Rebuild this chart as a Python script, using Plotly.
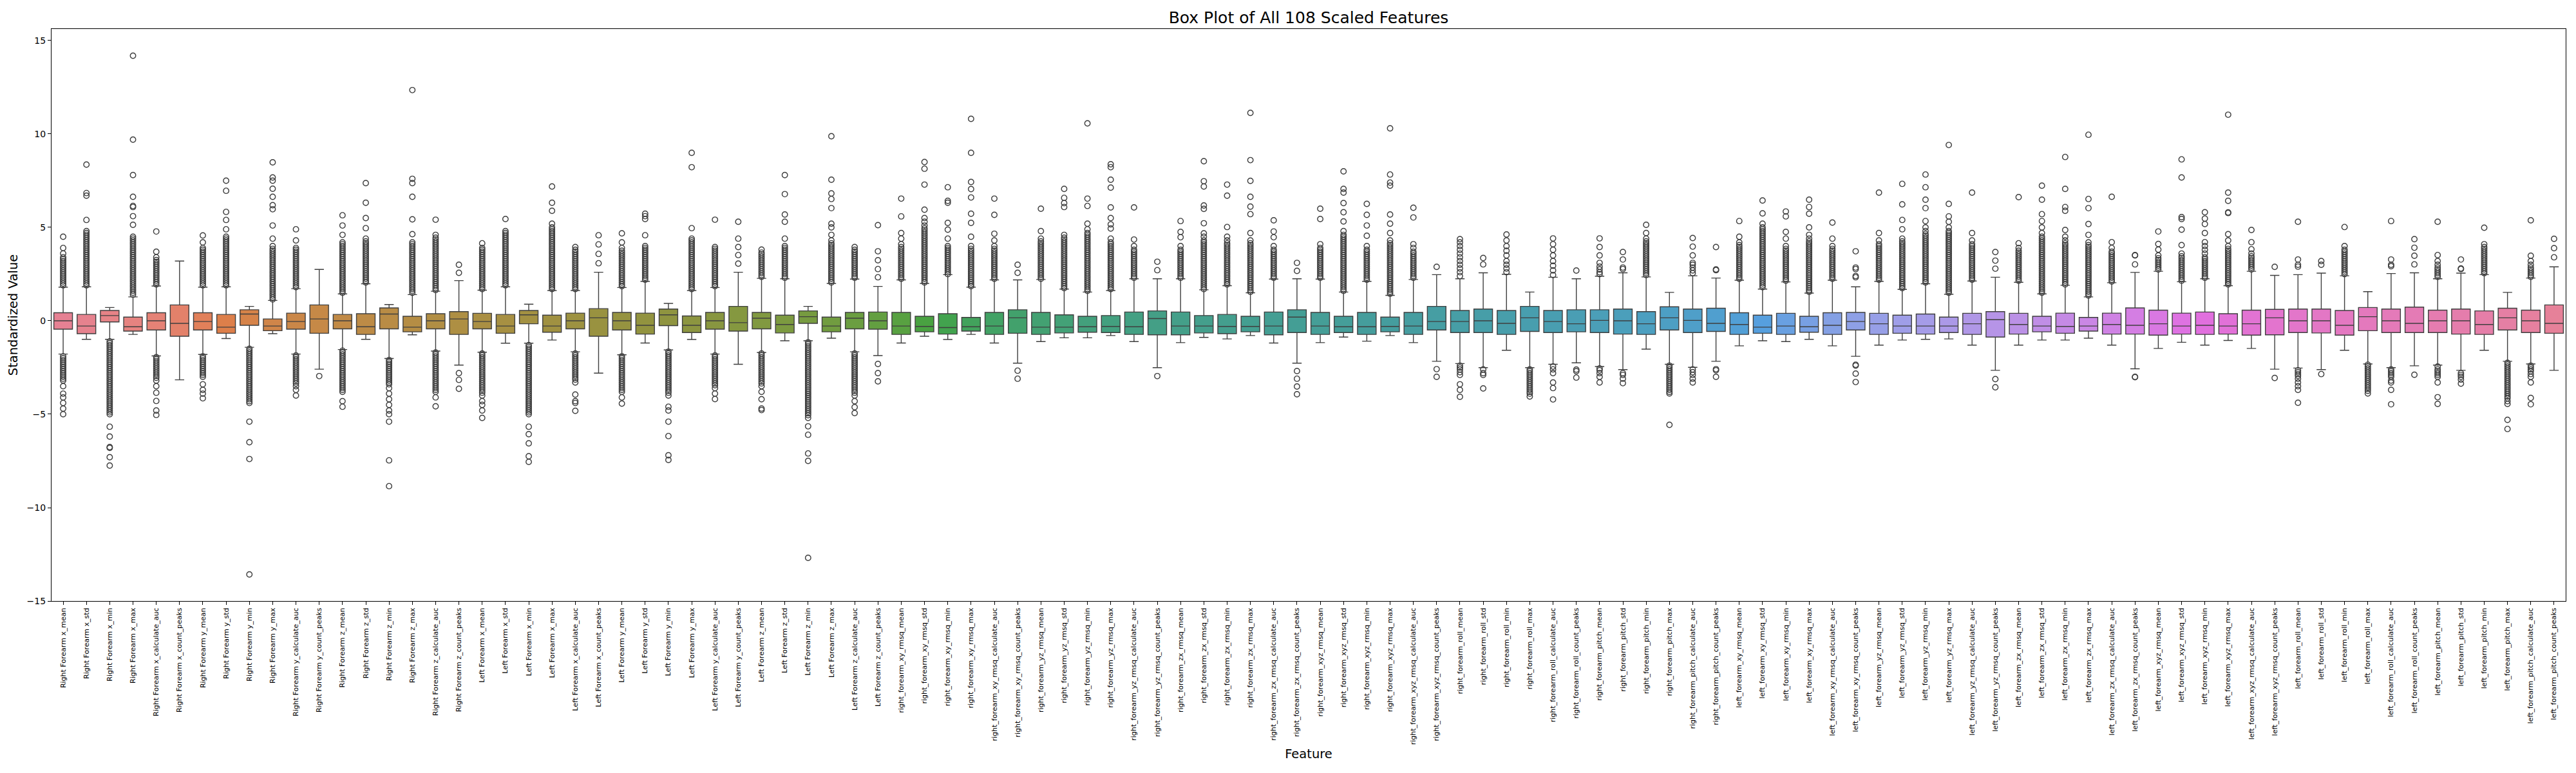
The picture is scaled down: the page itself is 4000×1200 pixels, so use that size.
import colorsys
import math
import plotly.graph_objects as go

# ---- feature names ----
stats = ["mean", "std", "min", "max", "calculate_auc", "count_peaks"]
axes_raw = ["x", "y", "z"]
axes_rmsq = ["xy", "yz", "zx", "xyz"]
angles = ["roll", "pitch"]

labels = ([f"Right Forearm {a}_{s}" for a in axes_raw for s in stats]
          + [f"Left Forearm {a}_{s}" for a in axes_raw for s in stats]
          + [f"right_forearm_{a}_rmsq_{s}" for a in axes_rmsq for s in stats]
          + [f"right_forearm_{a}_{s}" for a in angles for s in stats]
          + [f"left_forearm_{a}_rmsq_{s}" for a in axes_rmsq for s in stats]
          + [f"left_forearm_{a}_{s}" for a in angles for s in stats])

# ---- box statistics ----
q1 = [-0.45, -0.69, -0.06, -0.55, -0.49, -0.83, -0.49, -0.67, -0.24, -0.53, -0.45, -0.67,
      -0.43, -0.73, -0.43, -0.59, -0.43, -0.73, -0.43, -0.67, -0.16, -0.61, -0.43, -0.83,
      -0.49, -0.71, -0.26, -0.63, -0.45, -0.55, -0.43, -0.65, -0.14, -0.59, -0.43, -0.45,
      -0.73, -0.59, -0.71, -0.55, -0.73, -0.67, -0.73, -0.65, -0.61, -0.63, -0.73, -0.75,
      -0.75, -0.65, -0.69, -0.59, -0.75, -0.63, -0.73, -0.63, -0.73, -0.59, -0.73, -0.49,
      -0.63, -0.63, -0.73, -0.57, -0.63, -0.59, -0.63, -0.71, -0.73, -0.49, -0.63, -0.57,
      -0.73, -0.67, -0.73, -0.61, -0.73, -0.49, -0.73, -0.67, -0.71, -0.63, -0.73, -0.87,
      -0.71, -0.59, -0.67, -0.55, -0.71, -0.71, -0.77, -0.71, -0.73, -0.71, -0.77, -0.75,
      -0.63, -0.65, -0.77, -0.53, -0.63, -0.63, -0.63, -0.71, -0.73, -0.49, -0.63, -0.67]
med = [0.0, -0.28, 0.28, -0.32, 0.0, -0.14, -0.04, -0.34, 0.36, -0.28, -0.04, 0.10,
       0.0, -0.32, 0.36, -0.34, 0.0, 0.10, -0.04, -0.28, 0.32, -0.28, 0.0, 0.16,
       0.0, -0.24, 0.32, -0.24, 0.0, -0.10, 0.14, -0.20, 0.22, -0.28, 0.14, 0.0,
       -0.28, -0.30, -0.36, -0.32, -0.28, 0.16, -0.34, -0.34, -0.32, -0.30, -0.32, 0.12,
       -0.28, -0.28, -0.30, -0.30, -0.28, 0.20, -0.28, -0.32, -0.32, -0.30, -0.28, -0.04,
       -0.04, 0.0, -0.14, 0.16, -0.04, -0.16, 0.02, 0.0, -0.16, 0.16, 0.02, -0.14,
       -0.20, -0.34, -0.28, -0.32, -0.24, -0.04, -0.16, -0.28, -0.28, -0.28, -0.16, 0.06,
       -0.20, -0.28, -0.30, -0.28, -0.20, -0.24, -0.16, -0.28, -0.24, -0.28, -0.16, 0.16,
       0.0, 0.0, -0.24, 0.22, 0.0, -0.14, 0.0, 0.0, -0.20, 0.16, 0.0, -0.14]
q3 = [0.43, 0.34, 0.55, 0.20, 0.43, 0.85, 0.43, 0.34, 0.59, 0.10, 0.41, 0.85,
      0.34, 0.38, 0.69, 0.24, 0.38, 0.49, 0.40, 0.34, 0.55, 0.30, 0.41, 0.65,
      0.45, 0.41, 0.63, 0.26, 0.45, 0.77, 0.45, 0.30, 0.53, 0.20, 0.45, 0.47,
      0.45, 0.24, 0.38, 0.18, 0.45, 0.59, 0.45, 0.32, 0.24, 0.28, 0.47, 0.53,
      0.47, 0.28, 0.34, 0.24, 0.47, 0.59, 0.45, 0.24, 0.45, 0.20, 0.45, 0.77,
      0.55, 0.63, 0.55, 0.77, 0.55, 0.59, 0.59, 0.63, 0.49, 0.75, 0.63, 0.67,
      0.43, 0.30, 0.40, 0.24, 0.43, 0.45, 0.40, 0.30, 0.36, 0.20, 0.40, 0.49,
      0.40, 0.24, 0.41, 0.18, 0.41, 0.69, 0.57, 0.41, 0.47, 0.38, 0.57, 0.61,
      0.63, 0.63, 0.55, 0.71, 0.63, 0.73, 0.57, 0.63, 0.53, 0.67, 0.57, 0.85]
whisk_lo = [-1.78, -0.99, -0.99, -0.73, -1.88, -3.16, -1.80, -0.95, -1.42, -0.69, -1.78, -2.59,
            -1.54, -0.99, -2.02, -0.75, -1.62, -2.37, -1.68, -1.20, -1.20, -1.03, -1.66, -2.80,
            -1.82, -1.19, -1.56, -1.00, -1.78, -2.33, -1.70, -1.07, -1.07, -0.93, -1.66, -1.86,
            -1.19, -0.83, -1.00, -0.73, -1.19, -2.27, -1.11, -0.91, -0.91, -0.79, -1.11, -2.51,
            -1.17, -0.89, -0.97, -0.79, -1.19, -2.27, -1.17, -0.87, -1.09, -0.79, -1.17, -2.17,
            -2.29, -2.51, -1.58, -2.51, -2.33, -2.25, -2.45, -2.61, -1.52, -2.33, -2.49, -2.17,
            -1.34, -1.07, -1.11, -0.99, -1.34, -1.90, -1.30, -1.03, -0.99, -0.97, -1.30, -2.65,
            -1.30, -1.03, -1.03, -0.93, -1.30, -2.57, -1.48, -1.15, -1.30, -1.05, -1.48, -2.59,
            -2.53, -2.61, -1.58, -2.31, -2.51, -2.41, -2.37, -2.65, -1.58, -2.17, -2.31, -2.65]
whisk_hi = [1.80, 1.82, 0.71, 1.28, 1.86, 3.20, 1.80, 1.82, 0.77, 1.09, 1.72, 2.75,
            1.44, 1.98, 0.87, 1.40, 1.58, 2.15, 1.64, 1.82, 0.89, 1.62, 1.62, 2.60,
            1.78, 2.11, 0.93, 1.62, 1.78, 2.60, 2.27, 2.25, 0.77, 2.00, 2.23, 1.84,
            2.19, 2.00, 2.47, 1.80, 2.19, 2.19, 2.21, 1.70, 1.54, 1.62, 2.25, 2.25,
            2.25, 1.66, 1.88, 1.50, 2.23, 2.25, 2.23, 1.54, 2.11, 1.36, 2.21, 2.47,
            2.25, 2.57, 2.49, 1.54, 2.33, 2.25, 2.39, 2.57, 2.35, 1.52, 2.41, 2.29,
            2.17, 1.70, 2.08, 1.48, 2.17, 1.82, 2.11, 1.68, 1.98, 1.42, 2.13, 2.33,
            2.06, 1.44, 1.90, 1.28, 2.04, 2.59, 2.65, 2.09, 2.25, 1.88, 2.65, 2.43,
            2.47, 2.55, 2.41, 1.56, 2.53, 2.57, 2.25, 2.55, 2.47, 1.52, 2.29, 2.89]

# ---- outlier points (one list per feature) ----
outliers = [
    [1.9, 2.0, 2.1, 2.2, 2.3, 2.4, 2.5, 2.6, 2.7, 2.8, 2.9, 3.0, 3.1, 3.2, 3.3, 3.4, 3.6, 3.9, 4.5,
     -1.9, -2.0, -2.1, -2.2, -2.3, -2.4, -2.5, -2.6, -2.7, -2.8, -2.9, -3.0, -3.1, -3.2, -3.5, -3.9, -4.1, -4.4, -4.7, -5.0],
    [1.9, 2.0, 2.1, 2.2, 2.3, 2.4, 2.5, 2.6, 2.7, 2.8, 2.9, 3.0, 3.1, 3.2, 3.3, 3.4, 3.5, 3.6, 3.7, 3.8, 3.9, 4.0,
     4.1, 4.2, 4.3, 4.4, 4.5, 4.6, 4.7, 4.8, 5.4, 6.7, 6.84, 8.36],
    [-1.1, -1.2, -1.3, -1.4, -1.5, -1.6, -1.7, -1.8, -1.9, -2.0, -2.1, -2.2, -2.3, -2.4, -2.5, -2.6, -2.7, -2.8, -2.9,
     -3.0, -3.1, -3.2, -3.3, -3.4, -3.5, -3.6, -3.7, -3.8, -3.9, -4.0, -4.1, -4.2, -4.3, -4.4, -4.5, -4.6, -4.7, -4.8,
     -4.9, -5.0, -5.67, -6.2, -6.76, -6.8, -7.3, -7.75],
    [1.4, 1.5, 1.6, 1.7, 1.8, 1.9, 2.0, 2.1, 2.2, 2.3, 2.4, 2.5, 2.6, 2.7, 2.8, 2.9, 3.0, 3.1, 3.2, 3.3, 3.4, 3.5,
     3.6, 3.7, 3.8, 3.9, 4.0, 4.1, 4.2, 4.3, 4.4, 4.5, 5.14, 5.6, 6.09, 6.15, 6.64, 7.8, 9.7, 14.19],
    [1.95, 2.05, 2.15, 2.25, 2.35, 2.45, 2.55, 2.65, 2.75, 2.85, 2.95, 3.05, 3.15, 3.25, 3.4, 3.7, 4.78,
     -1.95, -2.05, -2.15, -2.25, -2.35, -2.45, -2.55, -2.65, -2.75, -2.85, -2.95, -3.05, -3.2, -3.5, -3.85, -4.29, -4.8, -5.04],
    [],
    [1.9, 2.0, 2.1, 2.2, 2.3, 2.4, 2.5, 2.6, 2.7, 2.8, 2.9, 3.0, 3.1, 3.2, 3.3, 3.4, 3.5, 3.6, 3.7, 3.8, 3.9, 4.2, 4.57,
     -1.9, -2.0, -2.1, -2.2, -2.3, -2.4, -2.5, -2.6, -2.7, -2.8, -2.9, -3.0, -3.4, -3.7, -3.9, -4.15],
    [1.9, 2.0, 2.1, 2.2, 2.3, 2.4, 2.5, 2.6, 2.7, 2.8, 2.9, 3.0, 3.1, 3.2, 3.3, 3.4, 3.5, 3.6, 3.7, 3.8, 3.9, 4.0,
     4.1, 4.2, 4.3, 4.4, 4.5, 4.9, 5.4, 5.83, 6.96, 7.5],
    [-1.5, -1.6, -1.7, -1.8, -1.9, -2.0, -2.1, -2.2, -2.3, -2.4, -2.5, -2.6, -2.7, -2.8, -2.9, -3.0, -3.1, -3.2, -3.3,
     -3.4, -3.5, -3.6, -3.7, -3.8, -3.9, -4.0, -4.1, -4.2, -4.3, -4.4, -5.4, -6.5, -7.4, -13.58],
    [1.15, 1.25, 1.35, 1.45, 1.55, 1.65, 1.75, 1.85, 1.95, 2.05, 2.15, 2.25, 2.35, 2.45, 2.55, 2.65, 2.75, 2.85, 2.95,
     3.05, 3.15, 3.25, 3.35, 3.45, 3.55, 3.65, 3.75, 3.85, 4.0, 4.4, 5.1, 5.97, 6.19, 6.64, 7.07, 7.5, 7.67, 8.48],
    [1.8, 1.9, 2.0, 2.1, 2.2, 2.3, 2.4, 2.5, 2.6, 2.7, 2.8, 2.9, 3.0, 3.1, 3.2, 3.3, 3.4, 3.5, 3.6, 3.7, 3.8, 3.9, 4.3, 4.9,
     -1.85, -1.95, -2.05, -2.15, -2.25, -2.35, -2.45, -2.55, -2.65, -2.75, -2.85, -2.95, -3.05, -3.15, -3.25, -3.35,
     -3.5, -3.7, -4.0],
    [-2.96],
    [1.5, 1.6, 1.7, 1.8, 1.9, 2.0, 2.1, 2.2, 2.3, 2.4, 2.5, 2.6, 2.7, 2.8, 2.9, 3.0, 3.1, 3.2, 3.3, 3.4, 3.5, 3.6,
     3.7, 3.8, 3.9, 4.0, 4.1, 4.2, 4.6, 5.1, 5.65,
     -1.6, -1.7, -1.8, -1.9, -2.0, -2.1, -2.2, -2.3, -2.4, -2.5, -2.6, -2.7, -2.8, -2.9, -3.0, -3.1, -3.2, -3.3,
     -3.4, -3.5, -3.6, -3.7, -3.8, -4.3, -4.6],
    [2.05, 2.15, 2.25, 2.35, 2.45, 2.55, 2.65, 2.75, 2.85, 2.95, 3.05, 3.15, 3.25, 3.35, 3.45, 3.55, 3.65, 3.75,
     3.85, 3.95, 4.05, 4.15, 4.25, 4.4, 4.96, 5.5, 6.32, 7.37],
    [-2.1, -2.2, -2.3, -2.4, -2.5, -2.6, -2.7, -2.8, -2.9, -3.0, -3.1, -3.2, -3.3, -3.4, -3.6, -3.9, -4.2, -4.5,
     -4.8, -5.0, -5.4, -7.47, -8.85],
    [1.5, 1.6, 1.7, 1.8, 1.9, 2.0, 2.1, 2.2, 2.3, 2.4, 2.5, 2.6, 2.7, 2.8, 2.9, 3.0, 3.1, 3.2, 3.3, 3.4, 3.5, 3.6,
     3.7, 3.8, 3.9, 4.0, 4.1, 4.2, 4.64, 5.43, 6.64, 7.37, 7.6, 12.35],
    [1.65, 1.75, 1.85, 1.95, 2.05, 2.15, 2.25, 2.35, 2.45, 2.55, 2.65, 2.75, 2.85, 2.95, 3.05, 3.15, 3.25, 3.35,
     3.45, 3.55, 3.65, 3.75, 3.85, 3.95, 4.05, 4.15, 4.25, 4.35, 4.45, 4.6, 5.41,
     -1.7, -1.8, -1.9, -2.0, -2.1, -2.2, -2.3, -2.4, -2.5, -2.6, -2.7, -2.8, -2.9, -3.0, -3.1, -3.2, -3.3, -3.4,
     -3.5, -3.6, -3.7, -3.8, -4.1, -4.58],
    [2.57, 3.0, -2.8, -3.16, -3.64],
    [1.7, 1.8, 1.9, 2.0, 2.1, 2.2, 2.3, 2.4, 2.5, 2.6, 2.7, 2.8, 2.9, 3.0, 3.1, 3.2, 3.3, 3.4, 3.5, 3.6, 3.7, 3.8, 3.9, 4.15,
     -1.75, -1.85, -1.95, -2.05, -2.15, -2.25, -2.35, -2.45, -2.55, -2.65, -2.75, -2.85, -2.95, -3.05, -3.15, -3.25,
     -3.35, -3.45, -3.55, -3.65, -3.75, -3.85, -4.0, -4.3, -4.5, -4.8, -5.2],
    [1.9, 2.0, 2.1, 2.2, 2.3, 2.4, 2.5, 2.6, 2.7, 2.8, 2.9, 3.0, 3.1, 3.2, 3.3, 3.4, 3.5, 3.6, 3.7, 3.8, 3.9, 4.0,
     4.1, 4.2, 4.3, 4.4, 4.5, 4.6, 4.7, 4.8, 5.45],
    [-1.3, -1.4, -1.5, -1.6, -1.7, -1.8, -1.9, -2.0, -2.1, -2.2, -2.3, -2.4, -2.5, -2.6, -2.7, -2.8, -2.9, -3.0,
     -3.1, -3.2, -3.3, -3.4, -3.5, -3.6, -3.7, -3.8, -3.9, -4.0, -4.1, -4.2, -4.3, -4.4, -4.5, -4.6, -4.7, -4.8,
     -4.9, -5.0, -5.67, -6.07, -6.56, -7.25, -7.55],
    [1.7, 1.8, 1.9, 2.0, 2.1, 2.2, 2.3, 2.4, 2.5, 2.6, 2.7, 2.8, 2.9, 3.0, 3.1, 3.2, 3.3, 3.4, 3.5, 3.6, 3.7, 3.8,
     3.9, 4.0, 4.1, 4.2, 4.3, 4.4, 4.5, 4.6, 4.7, 4.8, 4.9, 5.0, 5.2, 5.89, 6.32, 7.19],
    [1.7, 1.8, 1.9, 2.0, 2.1, 2.2, 2.3, 2.4, 2.5, 2.6, 2.7, 2.8, 2.9, 3.0, 3.1, 3.2, 3.3, 3.4, 3.5, 3.6, 3.7, 3.8, 3.95,
     -1.75, -1.85, -1.95, -2.05, -2.15, -2.25, -2.35, -2.45, -2.55, -2.65, -2.75, -2.85, -2.95, -3.05, -3.15, -3.3,
     -3.95, -4.3, -4.4, -4.82],
    [3.08, 3.58, 4.09, 4.58],
    [1.85, 1.95, 2.05, 2.15, 2.25, 2.35, 2.45, 2.55, 2.65, 2.75, 2.85, 2.95, 3.05, 3.15, 3.25, 3.35, 3.45, 3.55,
     3.65, 3.75, 3.9, 4.2, 4.68,
     -1.9, -2.0, -2.1, -2.2, -2.3, -2.4, -2.5, -2.6, -2.7, -2.8, -2.9, -3.0, -3.1, -3.2, -3.3, -3.4, -3.5, -3.6,
     -3.7, -3.8, -4.1, -4.43],
    [2.2, 2.3, 2.4, 2.5, 2.6, 2.7, 2.8, 2.9, 3.0, 3.1, 3.2, 3.3, 3.4, 3.5, 3.6, 3.7, 3.8, 3.9, 4.0, 4.58, 5.45, 5.6, 5.73],
    [-1.65, -1.75, -1.85, -1.95, -2.05, -2.15, -2.25, -2.35, -2.45, -2.55, -2.65, -2.75, -2.85, -2.95, -3.05,
     -3.15, -3.25, -3.35, -3.45, -3.55, -3.65, -3.75, -3.85, -4.0, -4.6, -4.8, -5.4, -6.17, -7.2, -7.45],
    [1.7, 1.8, 1.9, 2.0, 2.1, 2.2, 2.3, 2.4, 2.5, 2.6, 2.7, 2.8, 2.9, 3.0, 3.1, 3.2, 3.3, 3.4, 3.5, 3.6, 3.7, 3.8,
     3.9, 4.0, 4.1, 4.2, 4.3, 4.4, 4.96, 8.22, 8.99],
    [1.85, 1.95, 2.05, 2.15, 2.25, 2.35, 2.45, 2.55, 2.65, 2.75, 2.85, 2.95, 3.05, 3.15, 3.25, 3.35, 3.45, 3.55,
     3.65, 3.75, 3.85, 3.95, 5.41,
     -1.85, -1.95, -2.05, -2.15, -2.25, -2.35, -2.45, -2.55, -2.65, -2.75, -2.85, -2.95, -3.05, -3.15, -3.25,
     -3.35, -3.45, -3.6, -3.9, -4.19],
    [3.06, 3.52, 3.95, 4.4, 5.3],
    [2.35, 2.45, 2.55, 2.65, 2.75, 2.85, 2.95, 3.05, 3.15, 3.25, 3.35, 3.45, 3.55, 3.65, 3.81,
     -1.75, -1.85, -1.95, -2.05, -2.15, -2.25, -2.35, -2.45, -2.55, -2.65, -2.75, -2.85, -2.95, -3.05, -3.15,
     -3.25, -3.35, -3.5, -3.8, -4.2, -4.7, -4.78],
    [2.3, 2.4, 2.5, 2.6, 2.7, 2.8, 2.9, 3.0, 3.1, 3.2, 3.3, 3.4, 3.5, 3.6, 3.7, 3.8, 3.9, 4.0, 4.4, 5.3, 5.69, 6.78, 7.8],
    [-1.15, -1.25, -1.35, -1.45, -1.55, -1.65, -1.75, -1.85, -1.95, -2.05, -2.15, -2.25, -2.35, -2.45, -2.55,
     -2.65, -2.75, -2.85, -2.95, -3.05, -3.15, -3.25, -3.35, -3.45, -3.55, -3.65, -3.75, -3.85, -3.95, -4.05,
     -4.15, -4.25, -4.35, -4.45, -4.55, -4.65, -4.75, -4.85, -4.95, -5.05, -5.2, -5.65, -6.1, -7.1, -7.5, -12.69],
    [2.05, 2.15, 2.25, 2.35, 2.45, 2.55, 2.65, 2.75, 2.85, 2.95, 3.05, 3.15, 3.25, 3.35, 3.45, 3.55, 3.65, 3.75,
     3.85, 3.95, 4.05, 4.15, 4.3, 4.6, 5.0, 5.2, 6.03, 6.52, 6.82, 7.55, 9.88],
    [2.3, 2.4, 2.5, 2.6, 2.7, 2.8, 2.9, 3.0, 3.1, 3.2, 3.3, 3.4, 3.5, 3.6, 3.7, 3.8, 3.95,
     -1.75, -1.85, -1.95, -2.05, -2.15, -2.25, -2.35, -2.45, -2.55, -2.65, -2.75, -2.85, -2.95, -3.05, -3.15,
     -3.25, -3.35, -3.45, -3.55, -3.65, -3.75, -3.85, -4.0, -4.3, -4.62, -4.94],
    [2.33, 2.77, 3.24, 3.72, 5.12, -2.31, -2.8, -3.24],
    [2.25, 2.35, 2.45, 2.55, 2.65, 2.75, 2.85, 2.95, 3.05, 3.15, 3.25, 3.35, 3.45, 3.55, 3.65, 3.75, 3.85, 3.95,
     4.1, 4.4, 4.7, 5.59, 6.54],
    [2.05, 2.15, 2.25, 2.35, 2.45, 2.55, 2.65, 2.75, 2.85, 2.95, 3.05, 3.15, 3.25, 3.35, 3.45, 3.55, 3.65, 3.75,
     3.85, 3.95, 4.05, 4.15, 4.25, 4.35, 4.45, 4.55, 4.65, 4.75, 4.85, 4.95, 5.1, 5.3, 5.5, 5.95, 7.29, 8.14, 8.5],
    [2.5, 2.6, 2.7, 2.8, 2.9, 3.0, 3.1, 3.2, 3.3, 3.4, 3.5, 3.6, 3.7, 3.8, 3.9, 4.0, 4.4, 4.88, 5.24, 6.32, 6.42, 7.15],
    [1.85, 1.95, 2.05, 2.15, 2.25, 2.35, 2.45, 2.55, 2.65, 2.75, 2.85, 2.95, 3.05, 3.15, 3.25, 3.35, 3.45, 3.55,
     3.65, 3.75, 3.85, 4.0, 4.5, 5.24, 5.73, 6.6, 7.05, 7.43, 8.99, 10.81],
    [2.25, 2.35, 2.45, 2.55, 2.65, 2.75, 2.85, 2.95, 3.05, 3.15, 3.25, 3.35, 3.45, 3.55, 3.65, 3.75, 3.85, 4.0,
     4.3, 4.66, 5.67, 6.54],
    [2.57, 3.0, -2.67, -3.1],
    [2.25, 2.35, 2.45, 2.55, 2.65, 2.75, 2.85, 2.95, 3.05, 3.15, 3.25, 3.35, 3.45, 3.55, 3.65, 3.75, 3.85, 3.95,
     4.05, 4.15, 4.25, 4.4, 4.8, 6.0],
    [1.75, 1.85, 1.95, 2.05, 2.15, 2.25, 2.35, 2.45, 2.55, 2.65, 2.75, 2.85, 2.95, 3.05, 3.15, 3.25, 3.35, 3.45,
     3.55, 3.65, 3.75, 3.85, 3.95, 4.05, 4.15, 4.25, 4.35, 4.45, 4.6, 6.09, 6.3, 6.58, 7.06],
    [1.6, 1.7, 1.8, 1.9, 2.0, 2.1, 2.2, 2.3, 2.4, 2.5, 2.6, 2.7, 2.8, 2.9, 3.0, 3.1, 3.2, 3.3, 3.4, 3.5, 3.6, 3.7,
     3.8, 3.9, 4.0, 4.1, 4.2, 4.3, 4.4, 4.5, 4.6, 4.7, 4.9, 5.2, 6.15, 6.54, 10.57],
    [1.7, 1.8, 1.9, 2.0, 2.1, 2.2, 2.3, 2.4, 2.5, 2.6, 2.7, 2.8, 2.9, 3.0, 3.1, 3.2, 3.3, 3.4, 3.5, 3.6, 3.7, 3.8,
     3.9, 4.0, 4.1, 4.2, 4.4, 4.94, 5.16, 5.5, 6.07, 7.13, 7.55, 8.22, 8.38],
    [2.3, 2.4, 2.5, 2.6, 2.7, 2.8, 2.9, 3.0, 3.1, 3.2, 3.3, 3.4, 3.5, 3.6, 3.7, 3.8, 4.0, 4.35, 6.07],
    [2.71, 3.16, -2.96],
    [2.3, 2.4, 2.5, 2.6, 2.7, 2.8, 2.9, 3.0, 3.1, 3.2, 3.3, 3.4, 3.5, 3.6, 3.7, 3.8, 4.0, 4.47, 4.76, 5.34],
    [1.7, 1.8, 1.9, 2.0, 2.1, 2.2, 2.3, 2.4, 2.5, 2.6, 2.7, 2.8, 2.9, 3.0, 3.1, 3.2, 3.3, 3.4, 3.5, 3.6, 3.7, 3.8,
     3.9, 4.0, 4.1, 4.2, 4.3, 4.5, 4.68, 5.22, 5.99, 6.17, 7.19, 7.47, 8.54],
    [1.95, 2.05, 2.15, 2.25, 2.35, 2.45, 2.55, 2.65, 2.75, 2.85, 2.95, 3.05, 3.15, 3.25, 3.35, 3.45, 3.55, 3.65,
     3.75, 3.85, 3.95, 4.05, 4.15, 4.3, 4.5, 5.02, 6.7, 7.29],
    [1.55, 1.65, 1.75, 1.85, 1.95, 2.05, 2.15, 2.25, 2.35, 2.45, 2.55, 2.65, 2.75, 2.85, 2.95, 3.05, 3.15, 3.25,
     3.35, 3.45, 3.55, 3.65, 3.75, 3.85, 3.95, 4.05, 4.15, 4.3, 4.7, 5.71, 6.11, 6.64, 7.49, 8.6, 11.13],
    [2.3, 2.4, 2.5, 2.6, 2.7, 2.8, 2.9, 3.0, 3.1, 3.2, 3.3, 3.4, 3.5, 3.6, 3.7, 3.8, 4.0, 4.47, 4.78, 5.38],
    [2.67, 3.1, -2.69, -3.1, -3.52, -3.93],
    [2.3, 2.4, 2.5, 2.6, 2.7, 2.8, 2.9, 3.0, 3.1, 3.2, 3.3, 3.4, 3.5, 3.6, 3.7, 3.8, 3.9, 4.1, 5.45, 6.0],
    [1.6, 1.7, 1.8, 1.9, 2.0, 2.1, 2.2, 2.3, 2.4, 2.5, 2.6, 2.7, 2.8, 2.9, 3.0, 3.1, 3.2, 3.3, 3.4, 3.5, 3.6, 3.7,
     3.8, 3.9, 4.0, 4.1, 4.2, 4.3, 4.4, 4.5, 4.6, 4.8, 5.32, 5.81, 6.3, 6.86, 7.06, 8.0],
    [2.2, 2.3, 2.4, 2.5, 2.6, 2.7, 2.8, 2.9, 3.0, 3.1, 3.2, 3.3, 3.4, 3.5, 3.6, 3.7, 3.8, 4.0, 4.55, 5.1, 5.67, 6.26],
    [1.45, 1.55, 1.65, 1.75, 1.85, 1.95, 2.05, 2.15, 2.25, 2.35, 2.45, 2.55, 2.65, 2.75, 2.85, 2.95, 3.05, 3.15,
     3.25, 3.35, 3.45, 3.55, 3.65, 3.75, 3.85, 3.95, 4.05, 4.15, 4.3, 4.7, 5.2, 5.69, 7.23, 7.4, 7.83, 10.3],
    [2.3, 2.4, 2.5, 2.6, 2.7, 2.8, 2.9, 3.0, 3.1, 3.2, 3.3, 3.4, 3.5, 3.6, 3.7, 3.9, 4.1, 5.53, 6.05],
    [2.89, -2.59, -3.0],
    [2.4, 2.6, 2.8, 3.0, 3.2, 3.4, 3.6, 3.8, 4.0, 4.2, 4.37, -2.4, -2.5, -2.6, -2.75, -2.9, -3.4, -3.7, -4.07],
    [3.02, 3.36, -2.6, -2.8, -2.9, -3.62],
    [2.6, 2.8, 3.0, 3.2, 3.5, 3.75, 4.0, 4.3, 4.62],
    [-2.6, -2.7, -2.8, -2.9, -3.0, -3.1, -3.2, -3.3, -3.4, -3.5, -3.6, -3.7, -3.8, -3.9, -4.05],
    [2.45, 2.7, 2.95, 3.2, 3.5, 3.8, 4.1, 4.41, -2.45, -2.6, -2.8, -3.3, -3.6, -4.21],
    [2.69, -2.61, -2.7, -3.04],
    [2.5, 2.6, 2.75, 2.9, 3.1, 3.5, 3.95, 4.41, -2.55, -2.65, -2.8, -3.0, -3.3],
    [2.77, 2.85, 3.28, 3.68, -2.8, -2.9, -3.1, -3.34],
    [2.45, 2.55, 2.65, 2.75, 2.85, 2.95, 3.05, 3.15, 3.25, 3.35, 3.45, 3.55, 3.65, 3.75, 3.85, 3.95, 4.05,
     4.15, 4.25, 4.4, 4.7, 5.14],
    [-2.4, -2.5, -2.6, -2.7, -2.8, -2.9, -3.0, -3.1, -3.2, -3.3, -3.4, -3.5, -3.6, -3.7, -3.8, -3.89, -5.57],
    [2.55, 2.7, 2.85, 3.0, 3.1, 3.5, 3.97, 4.43, -2.6, -2.75, -2.9, -3.1, -3.3],
    [2.71, 2.75, 3.95, -2.59, -2.65, -3.0],
    [2.25, 2.35, 2.45, 2.55, 2.65, 2.75, 2.85, 2.95, 3.05, 3.15, 3.25, 3.35, 3.45, 3.55, 3.65, 3.75, 3.85, 3.95,
     4.05, 4.2, 4.5, 5.34],
    [1.8, 1.9, 2.0, 2.1, 2.2, 2.3, 2.4, 2.5, 2.6, 2.7, 2.8, 2.9, 3.0, 3.1, 3.2, 3.3, 3.4, 3.5, 3.6, 3.7, 3.8, 3.9,
     4.0, 4.1, 4.2, 4.3, 4.4, 4.5, 4.6, 4.7, 4.8, 4.9, 5.0, 5.2, 5.75, 6.44],
    [2.15, 2.25, 2.35, 2.45, 2.55, 2.65, 2.75, 2.85, 2.95, 3.05, 3.15, 3.25, 3.35, 3.45, 3.55, 3.65, 3.75, 3.85,
     4.0, 4.4, 4.76, 5.59, 5.85],
    [1.55, 1.65, 1.75, 1.85, 1.95, 2.05, 2.15, 2.25, 2.35, 2.45, 2.55, 2.65, 2.75, 2.85, 2.95, 3.05, 3.15, 3.25,
     3.35, 3.45, 3.55, 3.65, 3.75, 3.85, 3.95, 4.05, 4.15, 4.25, 4.4, 4.6, 5.0, 5.73, 6.09, 6.48],
    [2.25, 2.35, 2.45, 2.55, 2.65, 2.75, 2.85, 2.95, 3.05, 3.15, 3.25, 3.35, 3.45, 3.55, 3.65, 3.75, 3.85, 4.0,
     4.4, 5.26],
    [2.33, 2.4, 2.77, 2.85, 3.72, -2.35, -2.4, -2.83, -3.28],
    [2.2, 2.3, 2.4, 2.5, 2.6, 2.7, 2.8, 2.9, 3.0, 3.1, 3.2, 3.3, 3.4, 3.5, 3.6, 3.7, 3.8, 3.9, 4.0, 4.1, 4.3, 4.7, 6.86],
    [1.75, 1.85, 1.95, 2.05, 2.15, 2.25, 2.35, 2.45, 2.55, 2.65, 2.75, 2.85, 2.95, 3.05, 3.15, 3.25, 3.35, 3.45,
     3.55, 3.65, 3.75, 3.85, 3.95, 4.05, 4.15, 4.25, 4.4, 4.9, 5.4, 6.23, 7.33],
    [2.05, 2.15, 2.25, 2.35, 2.45, 2.55, 2.65, 2.75, 2.85, 2.95, 3.05, 3.15, 3.25, 3.35, 3.45, 3.55, 3.65, 3.75,
     3.85, 3.95, 4.05, 4.15, 4.25, 4.35, 4.45, 4.55, 4.65, 4.8, 5.0, 5.34, 6.03, 6.48, 7.15, 7.83],
    [1.5, 1.6, 1.7, 1.8, 1.9, 2.0, 2.1, 2.2, 2.3, 2.4, 2.5, 2.6, 2.7, 2.8, 2.9, 3.0, 3.1, 3.2, 3.3, 3.4, 3.5, 3.6,
     3.7, 3.8, 3.9, 4.0, 4.1, 4.2, 4.3, 4.4, 4.5, 4.6, 4.7, 4.8, 5.0, 5.3, 5.59, 6.26, 9.41],
    [2.2, 2.3, 2.4, 2.5, 2.6, 2.7, 2.8, 2.9, 3.0, 3.1, 3.2, 3.3, 3.4, 3.5, 3.6, 3.7, 3.8, 3.9, 4.0, 4.1, 4.3, 4.7, 6.86],
    [2.79, 3.22, 3.68, -3.12, -3.56],
    [2.15, 2.25, 2.35, 2.45, 2.55, 2.65, 2.75, 2.85, 2.95, 3.05, 3.15, 3.25, 3.35, 3.45, 3.55, 3.65, 3.75, 3.9,
     4.15, 6.62],
    [1.5, 1.6, 1.7, 1.8, 1.9, 2.0, 2.1, 2.2, 2.3, 2.4, 2.5, 2.6, 2.7, 2.8, 2.9, 3.0, 3.1, 3.2, 3.3, 3.4, 3.5, 3.6,
     3.7, 3.8, 3.9, 4.0, 4.1, 4.2, 4.3, 4.4, 4.5, 4.7, 5.0, 5.34, 5.71, 6.48, 7.23],
    [1.95, 2.05, 2.15, 2.25, 2.35, 2.45, 2.55, 2.65, 2.75, 2.85, 2.95, 3.05, 3.15, 3.25, 3.35, 3.45, 3.55, 3.65,
     3.75, 3.85, 3.95, 4.05, 4.15, 4.3, 4.5, 4.86, 5.89, 6.09, 7.06, 8.77],
    [1.35, 1.45, 1.55, 1.65, 1.75, 1.85, 1.95, 2.05, 2.15, 2.25, 2.35, 2.45, 2.55, 2.65, 2.75, 2.85, 2.95, 3.05,
     3.15, 3.25, 3.35, 3.45, 3.55, 3.65, 3.75, 3.85, 3.95, 4.05, 4.2, 4.6, 5.18, 6.03, 6.52, 9.96],
    [2.1, 2.2, 2.3, 2.4, 2.5, 2.6, 2.7, 2.8, 2.9, 3.0, 3.1, 3.2, 3.3, 3.4, 3.5, 3.6, 3.7, 3.9, 4.21, 6.64],
    [3.02, 3.5, 3.52, -3.0, -3.02],
    [2.75, 2.85, 2.95, 3.05, 3.15, 3.25, 3.35, 3.5, 3.81, 4.11, 4.78],
    [2.15, 2.25, 2.35, 2.45, 2.55, 2.65, 2.75, 2.85, 2.95, 3.05, 3.15, 3.25, 3.35, 3.45, 3.6, 4.05, 4.88, 5.45,
     5.55, 7.67, 8.64],
    [2.3, 2.4, 2.5, 2.6, 2.7, 2.8, 2.9, 3.0, 3.1, 3.2, 3.3, 3.4, 3.6, 3.8, 4.0, 4.21, 4.7, 5.18, 5.47, 5.81],
    [1.95, 2.05, 2.15, 2.25, 2.35, 2.45, 2.55, 2.65, 2.75, 2.85, 2.95, 3.05, 3.15, 3.25, 3.35, 3.45, 3.55, 3.65,
     3.75, 3.85, 4.0, 4.3, 4.64, 5.77, 5.8, 6.42, 6.86, 11.03],
    [2.75, 2.85, 2.95, 3.05, 3.15, 3.25, 3.35, 3.45, 3.6, 3.83, 4.21, 4.86],
    [2.89, -3.06],
    [2.9, 3.0, 3.28, 5.3, -2.65, -2.75, -2.85, -2.95, -3.1, -3.3, -3.5, -3.7, -4.39],
    [3.0, 3.2, -2.85],
    [2.5, 2.6, 2.7, 2.8, 2.9, 3.0, 3.1, 3.2, 3.3, 3.4, 3.5, 3.6, 3.7, 3.8, 4.0, 5.02],
    [-2.35, -2.45, -2.55, -2.65, -2.75, -2.85, -2.95, -3.05, -3.15, -3.25, -3.35, -3.45, -3.55, -3.65, -3.75, -3.89],
    [2.92, 3.0, 3.28, 5.34, -2.6, -2.7, -2.8, -2.9, -3.0, -3.2, -3.3, -3.7, -4.47],
    [3.02, 3.48, 3.91, 4.37, -2.89],
    [2.35, 2.45, 2.55, 2.65, 2.75, 2.85, 3.0, 3.2, 3.52, 5.3, -2.45, -2.6, -2.7, -2.8, -2.9, -3.0, -3.3, -4.09, -4.45],
    [2.77, 2.8, 3.28, -2.8, -2.9, -3.0, -3.15, -3.36],
    [2.55, 2.65, 2.75, 2.85, 2.95, 3.05, 3.15, 3.25, 3.35, 3.45, 3.55, 3.65, 3.75, 3.85, 3.95, 4.1, 4.98],
    [-2.25, -2.35, -2.45, -2.55, -2.65, -2.75, -2.85, -2.95, -3.05, -3.15, -3.25, -3.35, -3.45, -3.55, -3.65,
     -3.75, -3.85, -3.95, -4.05, -4.15, -4.3, -4.45, -5.3, -5.79],
    [2.35, 2.45, 2.55, 2.65, 2.75, 2.85, 3.0, 3.2, 3.48, 5.38, -2.4, -2.5, -2.6, -2.7, -2.85, -3.0, -3.3, -4.13, -4.47],
    [3.4, 3.89, 4.39],
]


# ---- seaborn-style "husl" palette ----
M = [[3.2406, -1.5372, -0.4986],
     [-0.9689, 1.8758, 0.0415],
     [0.0557, -0.2040, 1.0570]]
REF_U, REF_V = 0.19784, 0.46834
LAB_E, LAB_K = 0.008856, 903.3


def max_chroma(L, H):
    hrad = math.radians(H)
    sinH, cosH = math.sin(hrad), math.cos(hrad)
    sub1 = (L + 16) ** 3 / 1560896.0
    sub2 = sub1 if sub1 > LAB_E else L / LAB_K
    result = float("inf")
    for m1, m2, m3 in M:
        top = (0.99915 * m1 + 1.05122 * m2 + 1.14460 * m3) * sub2
        rbottom = 0.86330 * m3 - 0.17266 * m2
        lbottom = 0.12949 * m3 - 0.38848 * m1
        bottom = (rbottom * sinH + lbottom * cosH) * sub2
        for t in (0.0, 1.0):
            C = L * (top - 1.05122 * t) / (bottom + 0.17266 * sinH * t)
            if 0.0 < C < result:
                result = C
    return result


def husl_to_rgb(h, s, l):
    C = max_chroma(l, h) / 100.0 * s
    hrad = math.radians(h)
    U, V = math.cos(hrad) * C, math.sin(hrad) * C
    t = (l + 16.0) / 116.0
    Y = t ** 3 if t ** 3 > LAB_E else (116.0 * t - 16.0) / LAB_K
    varU = U / (13.0 * l) + REF_U
    varV = V / (13.0 * l) + REF_V
    X = 0.0 - (9.0 * Y * varU) / ((varU - 4.0) * varV - varU * varV)
    Z = (9.0 * Y - (15.0 * varV * Y) - (varV * X)) / (3.0 * varV)
    out = []
    for row in M:
        c = row[0] * X + row[1] * Y + row[2] * Z
        c = 12.92 * c if c <= 0.0031308 else 1.055 * c ** (1 / 2.4) - 0.055
        out.append(min(max(c, 0.0), 1.0))
    return out


n = len(labels)
palette = []
for i in range(n):
    hue = ((i / n) + 0.01) % 1 * 359
    palette.append(husl_to_rgb(hue, 0.9 * 99, 0.65 * 99))

fills = []
for r, g, b in palette:
    hh, ll, ss = colorsys.rgb_to_hls(r, g, b)
    r, g, b = colorsys.hls_to_rgb(hh, ll, ss * 0.75)
    fills.append(f"rgb({r*255:.0f},{g*255:.0f},{b*255:.0f})")

lum = min(colorsys.rgb_to_hls(*c)[1] for c in palette) * 0.6
gray = f"rgb({lum*255:.0f},{lum*255:.0f},{lum*255:.0f})"

# ---- figure ----
fig = go.Figure()
for i in range(n):
    fig.add_trace(go.Box(
        x=[labels[i]], q1=[q1[i]], median=[med[i]], q3=[q3[i]],
        lowerfence=[whisk_lo[i]], upperfence=[whisk_hi[i]],
        fillcolor=fills[i], line=dict(color=gray, width=1.4),
        whiskerwidth=0.5, width=0.8, boxpoints=False, showlegend=False))

fx, fy = [], []
for i in range(n):
    fx += [labels[i]] * len(outliers[i])
    fy += outliers[i]
fig.add_trace(go.Scatter(
    x=fx, y=fy, mode="markers", showlegend=False,
    marker=dict(symbol="circle-open", size=8.5, color=gray, line=dict(width=1.4, color=gray))))

fig.update_layout(
    width=4000, height=1200,
    margin=dict(l=80, r=16, t=45, b=267),
    paper_bgcolor="white", plot_bgcolor="white",
    font=dict(family="DejaVu Sans", color="black"),
    title=dict(text="Box Plot of All 108 Scaled Features", font=dict(size=25),
               x=0.5, xref="paper", y=1 - 27 / 1200, yref="container", yanchor="middle"),
    boxgap=0.2,
)
fig.update_xaxes(
    type="category", categoryorder="array", categoryarray=labels,
    range=[-0.5, n - 0.5], tickangle=-90, tickfont=dict(size=11),
    ticks="outside", ticklen=5, tickcolor="black",
    showline=True, linecolor="black", linewidth=1.1, mirror=True, showgrid=False,
    title=dict(text="Feature", font=dict(size=19.5), standoff=8))
fig.update_yaxes(
    range=[-15.0, 15.62], tickvals=[-15, -10, -5, 0, 5, 10, 15], tickfont=dict(size=14),
    ticks="outside", ticklen=5, tickcolor="black", zeroline=False,
    showline=True, linecolor="black", linewidth=1.1, mirror=True, showgrid=False,
    title=dict(text="Standardized Value", font=dict(size=19.5), standoff=8))

fig.write_html("out.html", config={"displayModeBar": False},
               post_script="document.body.style.margin='0';")
